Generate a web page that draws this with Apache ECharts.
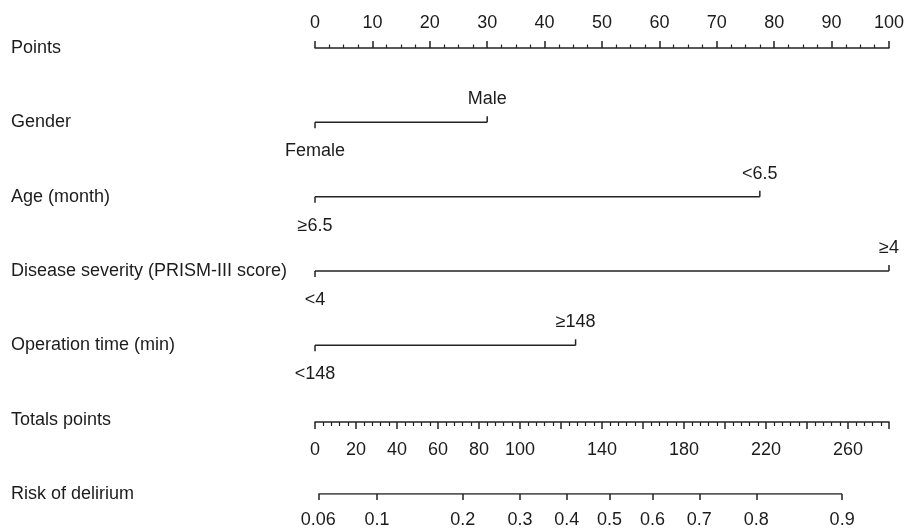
<!DOCTYPE html>
<html>
<head>
<meta charset="utf-8">
<script src="https://cdn.jsdelivr.net/npm/echarts@6/dist/echarts.min.js"></script>
<style>
html,body{margin:0;padding:0;background:#fff;}
#chart{width:907px;height:529px;}
</style>
</head>
<body>
<div id="chart"></div>
<script>
// ---- data ----
const rowNames = ['Points','Gender','Age (month)','Disease severity (PRISM-III score)','Operation time (min)','Totals points','Risk of delirium'];
const varRows = [1, 2, 3, 4];
const lowLabels = ['Female', '\u22656.5', '<4', '<148'];
const highLabels = ['Male', '<6.5', '\u22654', '\u2265148'];
const lowPoints = [0, 0, 0, 0];
const highPoints = [30, 77.5, 100, 45.4];
const pointsMax = 100;
const totalMax = 280;
const totalLabels = [0, 20, 40, 60, 80, 100, 140, 180, 220, 260];
const riskTicks = [0.06, 0.1, 0.2, 0.3, 0.4, 0.5, 0.6, 0.7, 0.8, 0.9];
const riskLabels = ['0.06', '0.1', '0.2', '0.3', '0.4', '0.5', '0.6', '0.7', '0.8', '0.9'];
const riskIntercept = 143.7;   // total points at risk 0.5
const riskSlope = 51.63;       // total points per logit unit

// ---- helpers ----
const toT = p => riskIntercept + riskSlope * Math.log(p / (1 - p));
const riskT = riskTicks.map(toT);
const FONT = 'Liberation Sans, Arial, Helvetica, sans-serif';
const TXT = '#1c1c1c';
const LINE = '#222222';
const FS = 18;
const LW = 1.5;

const chart = echarts.init(document.getElementById('chart'), null, {renderer: 'canvas'});

const series = [];
varRows.forEach((r, i) => {
  series.push({
    type: 'line', xAxisIndex: 0, yAxisIndex: 0,
    data: [[lowPoints[i], r], [highPoints[i], r]],
    showSymbol: false, symbol: 'none',
    lineStyle: {color: LINE, width: LW}
  });
});
series.push({
  type: 'scatter', xAxisIndex: 0, yAxisIndex: 0,
  data: varRows.map((r, i) => [lowPoints[i], r]),
  symbol: 'rect', symbolSize: [LW, 6], symbolOffset: [0, 3],
  itemStyle: {color: LINE, opacity: 1}
});
series.push({
  type: 'scatter', xAxisIndex: 0, yAxisIndex: 0,
  data: varRows.map((r, i) => [highPoints[i], r]),
  symbol: 'rect', symbolSize: [LW, 6], symbolOffset: [0, -3],
  itemStyle: {color: LINE, opacity: 1}
});
series.push({
  type: 'scatter', xAxisIndex: 0, yAxisIndex: 0,
  data: varRows.map((r, i) => ({value: [lowPoints[i], r], name: lowLabels[i]})),
  symbolSize: 0, itemStyle: {opacity: 1},
  label: {show: true, position: 'bottom', distance: 20, formatter: p => p.name,
    color: TXT, opacity: 1, fontSize: FS, fontFamily: FONT}
});
series.push({
  type: 'scatter', xAxisIndex: 0, yAxisIndex: 0,
  data: varRows.map((r, i) => ({value: [highPoints[i], r], name: highLabels[i]})),
  symbolSize: 0, itemStyle: {opacity: 1},
  label: {show: true, position: 'top', distance: 14, formatter: p => p.name,
    color: TXT, opacity: 1, fontSize: FS, fontFamily: FONT}
});
// risk axis baseline from lowest to highest risk tick
series.push({
  type: 'line', xAxisIndex: 1, yAxisIndex: 0,
  data: [[riskT[0], 6], [riskT[riskT.length - 1], 6]],
  symbol: 'none', lineStyle: {color: LINE, width: LW}
});

const option = {
  animation: false,
  backgroundColor: '#fff',
  textStyle: {fontFamily: FONT},
  grid: [
    {left: 315, right: 18, top: 48, bottom: 32},
    {left: 315, right: 18, top: 421, height: 1}
  ],
  xAxis: [
    { // Points axis
      type: 'value', gridIndex: 0, position: 'top', min: 0, max: pointsMax, interval: 10,
      axisLine: {show: true, lineStyle: {color: LINE, width: LW}},
      axisTick: {show: true, length: 7, lineStyle: {color: LINE, width: LW}},
      minorTick: {show: true, splitNumber: 4, length: 3.5, lineStyle: {color: LINE, width: 1.2}},
      axisLabel: {color: TXT, fontSize: FS, fontFamily: FONT, margin: 16, showMinLabel: true, showMaxLabel: true},
      splitLine: {show: false}, minorSplitLine: {show: false}
    },
    { // Risk axis (in total-points units)
      type: 'value', gridIndex: 0, position: 'bottom', min: 0, max: totalMax,
      axisLine: {show: false},
      axisTick: {show: true, length: 6, customValues: riskT, lineStyle: {color: LINE, width: LW}},
      axisLabel: {color: TXT, fontSize: FS, fontFamily: FONT, margin: 17, customValues: riskT,
        formatter: v => {
          let best = 0, d = Infinity;
          riskT.forEach((t, k) => { if (Math.abs(t - v) < d) { d = Math.abs(t - v); best = k; } });
          return riskLabels[best];
        }},
      splitLine: {show: false}
    },
    { // Total points axis
      type: 'value', gridIndex: 1, position: 'bottom', min: 0, max: totalMax, interval: 20,
      axisLine: {show: true, lineStyle: {color: LINE, width: LW}},
      axisTick: {show: true, length: 7, lineStyle: {color: LINE, width: LW}},
      minorTick: {show: true, splitNumber: 5, length: 4, lineStyle: {color: LINE, width: 1.2}},
      axisLabel: {color: TXT, fontSize: FS, fontFamily: FONT, margin: 19, customValues: totalLabels},
      splitLine: {show: false}, minorSplitLine: {show: false}
    }
  ],
  yAxis: [
    {
      type: 'value', gridIndex: 0, min: 0, max: rowNames.length - 1, interval: 1, inverse: true,
      axisLine: {show: false}, axisTick: {show: false}, splitLine: {show: false},
      axisLabel: {show: true, align: 'left', margin: 304, color: TXT, fontSize: FS, fontFamily: FONT,
        formatter: v => rowNames[v] || ''}
    },
    {
      type: 'value', gridIndex: 1, min: 0, max: 1, show: false
    }
  ],
  series: series
};
chart.setOption(option);
</script>
</body>
</html>
